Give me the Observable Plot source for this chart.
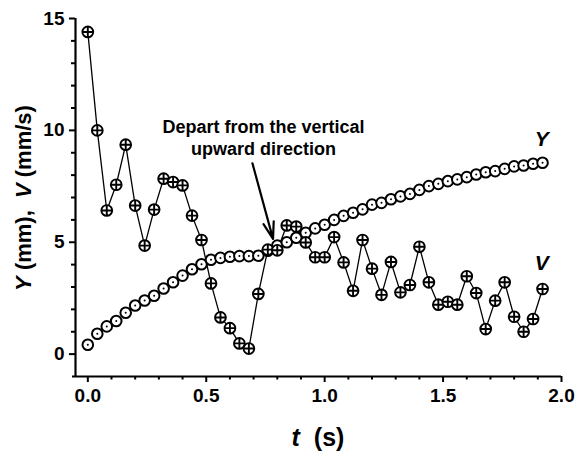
<!DOCTYPE html>
<html><head><meta charset="utf-8">
<script src="https://cdn.jsdelivr.net/npm/d3@7"></script>
<script src="https://cdn.jsdelivr.net/npm/@observablehq/plot@0.6"></script>
<style>
body{margin:0;background:#fff;}
svg{font-family:"Liberation Sans",Arial,sans-serif;font-weight:bold;}
</style>
</head><body><div id="chart"></div>
<script>
const time = [0,0.04,0.08,0.12,0.16,0.20,0.24,0.28,0.32,0.36,0.40,0.44,0.48,0.52,0.56,0.60,0.64,0.68,0.72,0.76,0.80,0.84,0.88,0.92,0.96,1.00,1.04,1.08,1.12,1.16,1.20,1.24,1.28,1.32,1.36,1.40,1.44,1.48,1.52,1.56,1.60,1.64,1.68,1.72,1.76,1.80,1.84,1.88,1.92];
const displacementY = [0.42,0.91,1.24,1.48,1.85,2.17,2.40,2.61,2.93,3.21,3.51,3.79,4.02,4.22,4.30,4.35,4.38,4.38,4.40,4.62,4.85,5.00,5.20,5.42,5.62,5.78,6.00,6.18,6.32,6.47,6.68,6.76,6.92,7.05,7.16,7.34,7.51,7.61,7.73,7.81,7.91,8.03,8.13,8.18,8.28,8.39,8.43,8.51,8.55];
const velocityV = [14.4,10.0,6.42,7.57,9.36,6.64,4.85,6.46,7.84,7.69,7.54,6.19,5.10,3.16,1.64,1.16,0.48,0.25,2.69,4.67,4.64,5.75,5.70,4.99,4.33,4.33,5.23,4.10,2.83,5.10,3.82,2.65,4.12,2.76,3.09,4.80,3.21,2.21,2.34,2.21,3.48,2.73,1.12,2.39,3.21,1.67,1.00,1.57,2.91];
const xMajorTicks = [0, 0.5, 1.0, 1.5, 2.0];
const xMinorTicks = [0.1,0.2,0.3,0.4,0.6,0.7,0.8,0.9,1.1,1.2,1.3,1.4,1.6,1.7,1.8,1.9];
const yMajorTicks = [0, 5, 10, 15];
const yMinorTicks = [1,2,3,4,6,7,8,9,11,12,13,14];
const seriesLabels = [{t: 1.917, v: 9.6, text: "Y"}, {t: 1.917, v: 4.05, text: "V"}];
const noteText = ["Depart from the vertical\nupward direction"];
const noteAnchor = [{t: 0.742, v: 9.72}];
const noteArrow = [{t1: 0.695, v1: 8.53, t2: 0.782, v2: 5.15}];

const rows = time.map((t, i) => ({t, Y: displacementY[i], V: velocityV[i]}));

const oplus = {
  draw(ctx, size) {
    const r = Math.sqrt(size / Math.PI);
    ctx.moveTo(r, 0);
    ctx.arc(0, 0, r, 0, 2 * Math.PI);
    ctx.moveTo(-r, 0); ctx.lineTo(r, 0);
    ctx.moveTo(0, -r); ctx.lineTo(0, r);
  }
};

const W = 576, H = 451;
const chart = Plot.plot({
  width: W, height: H,
  marginLeft: 75, marginRight: 15, marginTop: 18, marginBottom: 75,
  style: {fontFamily: '"Liberation Sans", Arial, sans-serif', fontWeight: "bold", background: "white", color: "black", overflow: "visible"},
  x: {domain: [-0.052, 2.0]},
  y: {domain: [-1, 15]},
  marks: [
    Plot.axisX({ticks: xMajorTicks, tickSize: 6, tickPadding: 6, strokeWidth: 2, fontSize: 19, fontWeight: "bold", tickFormat: d3.format(".1f"), label: null}),
    Plot.axisX({ticks: xMinorTicks, tickSize: 3.5, strokeWidth: 2, text: null, label: null}),
    Plot.axisY({ticks: yMajorTicks, tickSize: 6, tickPadding: 5, strokeWidth: 2, fontSize: 19, fontWeight: "bold", label: null}),
    Plot.axisY({ticks: yMinorTicks, tickSize: 4, strokeWidth: 2, text: null, label: null}),
    Plot.ruleX([-0.052], {y1: -1, y2: 15, strokeWidth: 2.2}),
    Plot.ruleY([-1], {x1: -0.052, x2: 2.0, strokeWidth: 2.2, insetLeft: -3}),
    Plot.line(rows, {x: "t", y: "V", stroke: "black", strokeWidth: 1.3}),
    Plot.dot(rows, {x: "t", y: "Y", r: 5.3, fill: "white", stroke: "black", strokeWidth: 2}),
    Plot.dot(rows, {x: "t", y: "Y", r: 1, fill: "black"}),
    Plot.dot(rows, {x: "t", y: "V", r: 5.4, symbol: oplus, fill: "white", stroke: "black", strokeWidth: 1.9}),
    Plot.arrow(noteArrow, {x1: "t1", y1: "v1", x2: "t2", y2: "v2", stroke: "black", strokeWidth: 2.2, headLength: 12, headAngle: 35}),
    Plot.text(noteAnchor, {x: "t", y: "v", text: () => noteText[0], fontSize: 18, fontWeight: "bold", lineHeight: 1.22, textAnchor: "middle", fill: "black"}),
    Plot.text(seriesLabels, {x: "t", y: "v", text: "text", fontSize: 21, fontWeight: "bold", fontStyle: "italic", fill: "black"})
  ]
});
document.getElementById("chart").appendChild(chart);

const svg = d3.select(chart);
const xt = svg.append("text")
  .attr("x", 318).attr("y", 446)
  .attr("text-anchor", "middle")
  .attr("font-size", 25).attr("font-weight", "bold").attr("fill", "black")
  .attr("xml:space", "preserve");
xt.append("tspan").attr("font-style", "italic").text("t");
xt.append("tspan").text("  (s)");

const yt = svg.append("text")
  .attr("transform", "translate(31,198) rotate(-90)")
  .attr("text-anchor", "middle")
  .attr("font-size", 22).attr("font-weight", "bold").attr("fill", "black")
  .attr("xml:space", "preserve");
yt.append("tspan").attr("font-style", "italic").text("Y");
yt.append("tspan").text(" (mm),  ");
yt.append("tspan").attr("font-style", "italic").text("V");
yt.append("tspan").text(" (mm/s)");
</script>
</body></html>
